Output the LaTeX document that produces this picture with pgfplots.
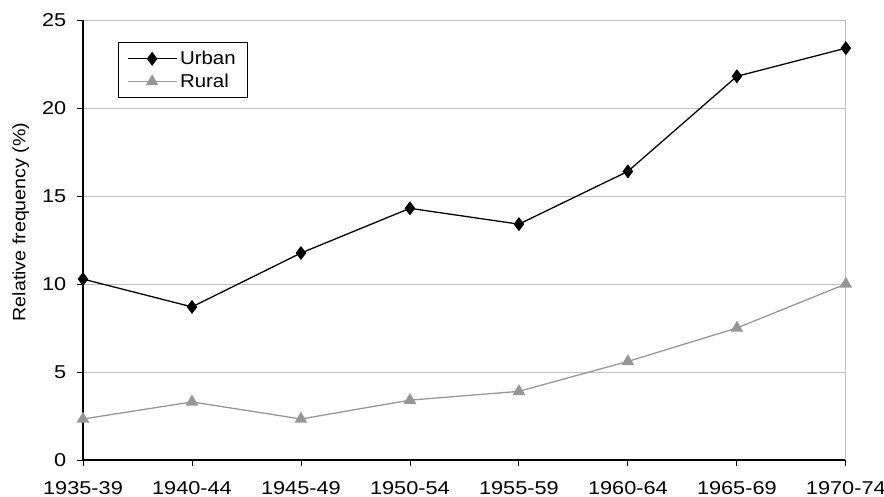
\documentclass[border=0pt]{standalone}
\usepackage{pgfplots}
\pgfplotsset{compat=1.18}
\usepackage{fontspec}
\setmainfont{Liberation Sans}
\newfontfamily\tickfont{Liberation Sans}[FakeStretch=1.17]
\newfontfamily\labelfont{Liberation Sans}[FakeStretch=1.1]
\definecolor{ruralgray}{RGB}{150,150,150}
\definecolor{gridgray}{RGB}{190,190,190}
\begin{document}
\begin{tikzpicture}
\useasboundingbox (-58.1pt,-25.9pt) rectangle (560.7pt,322.0pt);
\begin{axis}[
  at={(0pt,0pt)}, anchor=south west,
  scale only axis,
  width=534pt, height=308pt,
  xmin=0, xmax=7, ymin=0, ymax=25,
  xtick={0,1,2,3,4,5,6,7},
  xticklabels={1935-39,1940-44,1945-49,1950-54,1955-59,1960-64,1965-69,1970-74},
  ytick={0,5,10,15,20,25},
  /pgf/number format/assume math mode=true,
  ymajorgrids, grid style={gridgray, line width=0.6pt},
  axis x line*=bottom, axis y line*=left,
  axis line style={black, line width=0.9pt, -},
  tick style={black, line width=0.6pt},
  tick align=outside, major tick length=4.2pt,
  xtick pos=bottom, ytick pos=left,
  ylabel={Relative frequency (\%)},
  ylabel style={at={(axis description cs:0,0.541)}, anchor=center, yshift=43.5pt},
  tick label style={font=\tickfont\fontsize{13}{15}\selectfont},
  xticklabel style={yshift=-7pt},
  yticklabel style={xshift=-4pt},
  label style={font=\labelfont\fontsize{12.5}{15}\selectfont},
  clip=false,
  legend style={at={(0.046,0.95)}, anchor=north west, draw=black, line width=0.6pt,
    font=\labelfont\fontsize{13}{15}\selectfont, inner xsep=6pt, inner ysep=4pt, row sep=1pt,
    /tikz/every even column/.append style={column sep=2pt}},
  legend cell align=left,
  legend image code/.code={
    \draw[mark repeat=2,mark phase=2] plot coordinates {(0cm,0cm) (0.6cm,0cm) (1.2cm,0cm)};
  },
]
\draw[gridgray, line width=0.6pt] (axis cs:7,0) -- (axis cs:7,25);
\addplot[black, line width=0.9pt, mark=diamond*, mark size=4.2pt, mark options={solid, fill=black}]
 coordinates {(0,10.28) (1,8.7) (2,11.76) (3,14.3) (4,13.4) (5,16.4) (6,21.8) (7,23.4)};
\addlegendentry{Urban}
\addplot[ruralgray, line width=0.9pt, mark=triangle*, mark size=4.2pt, mark options={solid, fill=ruralgray}]
 coordinates {(0,2.33) (1,3.3) (2,2.33) (3,3.4) (4,3.9) (5,5.6) (6,7.5) (7,10.0)};
\addlegendentry{Rural}
\end{axis}
\end{tikzpicture}
\end{document}
